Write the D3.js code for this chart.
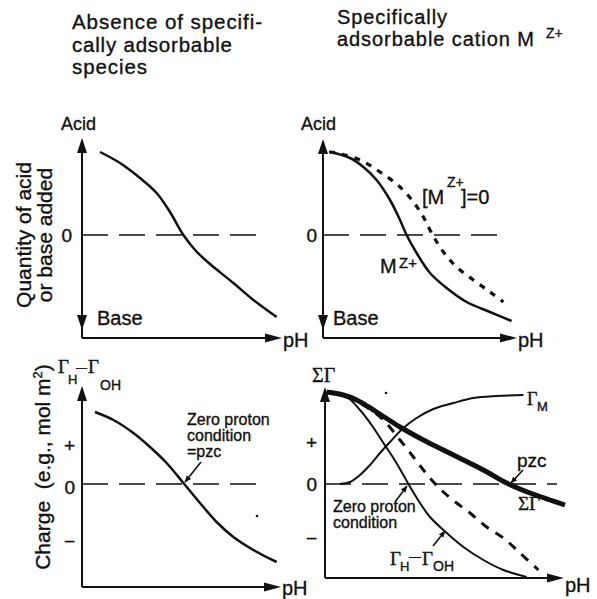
<!DOCTYPE html>
<html>
<head>
<meta charset="utf-8">
<script src="https://cdn.jsdelivr.net/npm/d3@7"></script>
<style>
  html, body { margin: 0; padding: 0; background: #fff; }
  svg { display: block; }
  text { font-family: "Liberation Sans", Arial, Helvetica, sans-serif; fill: #111; stroke: #111; stroke-width: 0.35px; }
  .serif { font-family: "Liberation Serif", "DejaVu Serif", "Times New Roman", serif; }
</style>
</head>
<body>
<svg id="chart" width="597" height="599"></svg>
<script>
// ---- Data: [pH, value]; value +1 = acid end / positive charge, -1 = base end / negative charge ----
// Titration without specifically adsorbable species
const titrationPlain = [[0.9,0.83],[1.9,0.72],[2.9,0.57],[3.73,0.42],[4.4,0.23],[5.07,0],[5.7,-0.16],[6.4,-0.29],[7.57,-0.48],[8.57,-0.65],[9.73,-0.82]];
// Titration in presence of M z+
const titrationWithMetal = [[0.35,0.83],[1.35,0.77],[2.02,0.68],[2.68,0.55],[3.35,0.35],[3.85,0.15],[4.18,0],[4.68,-0.18],[5.35,-0.38],[6.18,-0.53],[7.18,-0.67],[8.35,-0.77],[9.43,-0.86]];
// Titration with [M z+] = 0
const titrationMetalFree = [[0.3,0.83],[0.68,0.82],[1.85,0.75],[2.85,0.63],[3.85,0.48],[4.52,0.33],[5.02,0.18],[5.43,0.02],[6.02,-0.17],[6.68,-0.32],[7.52,-0.45],[8.35,-0.57],[9.02,-0.67]];
// Net proton charge, no specific adsorption
const chargePlain = [[0.65,0.72],[1.57,0.64],[2.57,0.51],[3.4,0.37],[4.23,0.21],[5.07,0.01],[5.9,-0.19],[6.73,-0.38],[7.57,-0.53],[8.57,-0.66],[9.73,-0.78]];
// Total surface charge ΣΓ with M z+
const chargeTotal = [[0.08,0.92],[0.92,0.89],[1.58,0.84],[2.58,0.72],[3.75,0.57],[4.92,0.44],[5.92,0.34],[6.92,0.24],[7.92,0.14],[9.08,0.01],[10.25,-0.09],[11.25,-0.16],[12,-0.21]];
// Γ_H − Γ_OH with M z+
const protonExcess = [[0.08,0.92],[1.08,0.87],[1.75,0.74],[2.33,0.59],[2.92,0.41],[3.42,0.26],[3.92,0.09],[4.17,0],[4.75,-0.19],[5.25,-0.33],[5.92,-0.46],[6.92,-0.63],[7.92,-0.76],[8.92,-0.86],[10.08,-0.93]];
// Γ_H − Γ_OH without M z+
const protonExcessMetalFree = [[0.25,0.92],[1.25,0.86],[2.08,0.77],[2.92,0.64],[3.75,0.44],[4.42,0.27],[4.92,0.14],[5.42,0.02],[5.92,-0.08],[6.58,-0.19],[7.25,-0.29],[8.08,-0.43],[8.92,-0.54],[9.75,-0.69],[10.67,-0.86]];
// Adsorbed metal Γ_M
const metalAdsorbed = [[0.75,0],[1.25,0.02],[1.75,0.09],[2.25,0.19],[2.75,0.31],[3.25,0.42],[3.92,0.56],[4.58,0.66],[5.42,0.75],[6.42,0.81],[7.42,0.86],[8.58,0.88],[9.92,0.89]];

// Axis tick labels
const zeroTick = [0];
const zeroLabel = ["0"];
const chargeTicks = [0.42, 0, -0.54];
const chargeLabels = ["+", "0", "\u2212"];

const svg = d3.select("#chart");
const ink = "#111";

// arrowhead marker for label pointers
svg.append("defs").append("marker")
  .attr("id", "ptr").attr("viewBox", "0 0 10 10").attr("refX", 9).attr("refY", 5)
  .attr("markerWidth", 7).attr("markerHeight", 7).attr("orient", "auto-start-reverse")
  .attr("markerUnits", "userSpaceOnUse")
  .append("path").attr("d", "M0,1 L10,5 L0,9 Z").attr("fill", ink);

function makePanel(p) {
  const x = d3.scaleLinear().domain([0, p.phMax]).range([p.ox, p.ox + p.phMax * 20]);
  const y = d3.scaleLinear().domain([-1, 1]).range([p.zeroY + 100, p.zeroY - 100]);
  const g = svg.append("g");
  // y axis line and arrows
  g.append("line").attr("x1", p.ox).attr("x2", p.ox).attr("y1", p.yTip + 4).attr("y2", p.axisY)
    .attr("stroke", ink).attr("stroke-width", 2);
  g.append("path").attr("d", `M${p.ox},${p.yTip} L${p.ox - 5},${p.yTip + 15} L${p.ox + 5},${p.yTip + 15} Z`).attr("fill", ink);
  if (p.downTip) {
    g.append("path").attr("d", `M${p.ox},${p.downTip} L${p.ox - 5},${p.downTip - 15} L${p.ox + 5},${p.downTip - 15} Z`).attr("fill", ink);
  }
  // x axis line and arrow
  g.append("line").attr("x1", p.ox).attr("x2", p.xTip - 4).attr("y1", p.axisY).attr("y2", p.axisY)
    .attr("stroke", ink).attr("stroke-width", 2);
  g.append("path").attr("d", `M${p.xTip},${p.axisY} L${p.xTip - 17},${p.axisY - 4.5} L${p.xTip - 17},${p.axisY + 4.5} Z`).attr("fill", ink);
  g.append("text").attr("x", p.xTip + 1).attr("y", p.phY).attr("font-size", 20).text("pH");
  // zero reference
  g.append("line").attr("x1", p.ox).attr("x2", p.dashEnd).attr("y1", y(0)).attr("y2", y(0))
    .attr("stroke", ink).attr("stroke-width", 1.4).attr("stroke-dasharray", "26,11");
  // tick labels
  const ax = d3.axisLeft(y).tickValues(p.ticks).tickFormat((d, i) => p.labels[i]).tickSize(0).tickPadding(p.pad);
  const ag = g.append("g").attr("transform", `translate(${p.ox},${p.labelDy || 0})`).call(ax);
  ag.select(".domain").remove();
  ag.selectAll("text").attr("font-size", 19).attr("font-family", "Liberation Sans, Arial, sans-serif").attr("fill", ink);
  return { x, y, g };
}

function curve(panel, data, width, dash) {
  const line = d3.line().x(d => panel.x(d[0])).y(d => panel.y(d[1])).curve(d3.curveCatmullRom.alpha(0.5));
  const path = panel.g.append("path").datum(data).attr("d", line)
    .attr("fill", "none").attr("stroke", ink).attr("stroke-width", width)
    .attr("stroke-linecap", "butt").attr("stroke-linejoin", "round");
  if (dash) path.attr("stroke-dasharray", dash);
}

function label(x, y, str, size, cls, extra) {
  const t = svg.append("text").attr("x", x).attr("y", y).attr("font-size", size).text(str);
  if (cls) t.attr("class", cls);
  if (extra) Object.entries(extra).forEach(([k, v]) => t.attr(k, v));
  return t;
}

function pointer(x1, y1, x2, y2) {
  svg.append("line").attr("x1", x1).attr("y1", y1).attr("x2", x2).attr("y2", y2)
    .attr("stroke", ink).attr("stroke-width", 1.6).attr("marker-end", "url(#ptr)");
}

// ---- Panels ----
const tl = makePanel({ ox: 82, axisY: 338, zeroY: 235, yTip: 138, downTip: 330, xTip: 282, dashEnd: 262, phY: 347, phMax: 10, ticks: zeroTick, labels: zeroLabel, pad: 10 });
const tr = makePanel({ ox: 323, axisY: 338, zeroY: 235, yTip: 139, downTip: 330, xTip: 517, dashEnd: 502, phY: 347, phMax: 10, ticks: zeroTick, labels: zeroLabel, pad: 6 });
const bl = makePanel({ ox: 82, axisY: 587, zeroY: 484, yTip: 386, xTip: 281, dashEnd: 263, phY: 595, phMax: 10, ticks: chargeTicks, labels: chargeLabels, pad: 7, labelDy: 3 });
const br = makePanel({ ox: 325, axisY: 578, zeroY: 484, yTip: 387, xTip: 564, dashEnd: 557, phY: 592, phMax: 12, ticks: chargeTicks, labels: chargeLabels, pad: 8 });

curve(tl, titrationPlain, 2.5);
curve(tr, titrationWithMetal, 2.5);
curve(tr, titrationMetalFree, 3.2, "6,7");
curve(bl, chargePlain, 2.5);
curve(br, metalAdsorbed, 2);
curve(br, protonExcessMetalFree, 3, "9,8");
curve(br, protonExcess, 2);
curve(br, chargeTotal, 5);

// ---- Titles ----
const wide = (w) => ({ textLength: w, lengthAdjust: "spacing" });
label(72, 29, "Absence of specifi-", 20.5, null, wide(190));
label(72, 52, "cally adsorbable", 20.5, null, wide(160));
label(72, 74, "species", 20.5, null, wide(75));
label(337, 23.5, "Specifically", 20, null, wide(110));
label(337, 46, "adsorbable cation M", 20, null, wide(197));
label(546, 38, "Z+", 14);

// ---- Axis captions ----
label(61, 130, "Acid", 18);
label(97, 325, "Base", 20);
label(301, 130, "Acid", 18);
label(333, 325, "Base", 20);

svg.append("text").attr("transform", "translate(31,235) rotate(-90)").attr("text-anchor", "middle")
  .attr("font-size", 21).text("Quantity of acid");
svg.append("text").attr("transform", "translate(52,235) rotate(-90)").attr("text-anchor", "middle")
  .attr("font-size", 21).text("or base added");
const ch = svg.append("text").attr("transform", "translate(50,467) rotate(-90)").attr("text-anchor", "middle")
  .attr("font-size", 21);
ch.append("tspan").text("Charge\u00a0\u00a0(e.g., mol m");
ch.append("tspan").attr("font-size", 13).attr("dy", -8).text("2");
ch.append("tspan").attr("dy", 8).text(")");

// ---- Curve annotations, upper right ----
label(422, 204, "[M", 20);
label(447, 187, "Z+", 14);
label(461, 204, "]=0", 20);
label(380, 273, "M", 20);
label(399, 268, "Z+", 15);

// ---- Lower left annotations ----
label(58, 373, "\u0393", 19, "serif");
label(68, 384, "H", 13);
label(76, 371, "\u2014", 11);
label(88, 373, "\u0393", 19, "serif");
label(100, 390, "OH", 14);
label(187, 425, "Zero proton", 16);
label(187, 441, "condition", 16);
label(187, 457, "=pzc", 16);
pointer(201, 462, 185, 482);

// ---- Lower right annotations ----
label(312, 382, "\u03a3\u0393", 20, "serif");
label(527, 405, "\u0393", 18, "serif");
label(537, 411, "M", 13);
label(517, 467, "pzc", 19);
pointer(523, 470, 511, 483);
label(518, 510, "\u03a3\u0393", 19, "serif");
label(333, 512, "Zero proton", 16);
label(333, 528, "condition", 16);
pointer(395, 502, 407, 486);
label(390, 565, "\u0393", 19, "serif");
label(400, 571, "H", 13);
label(409, 561, "\u2014", 12);
label(422, 565, "\u0393", 19, "serif");
label(433, 571, "OH", 14);
pointer(433, 546, 445, 531);

// small specks in the plot areas
svg.append("circle").attr("cx", 257).attr("cy", 516).attr("r", 1.3).attr("fill", ink);
svg.append("circle").attr("cx", 386).attr("cy", 393).attr("r", 1.3).attr("fill", ink);
</script>
</body>
</html>
